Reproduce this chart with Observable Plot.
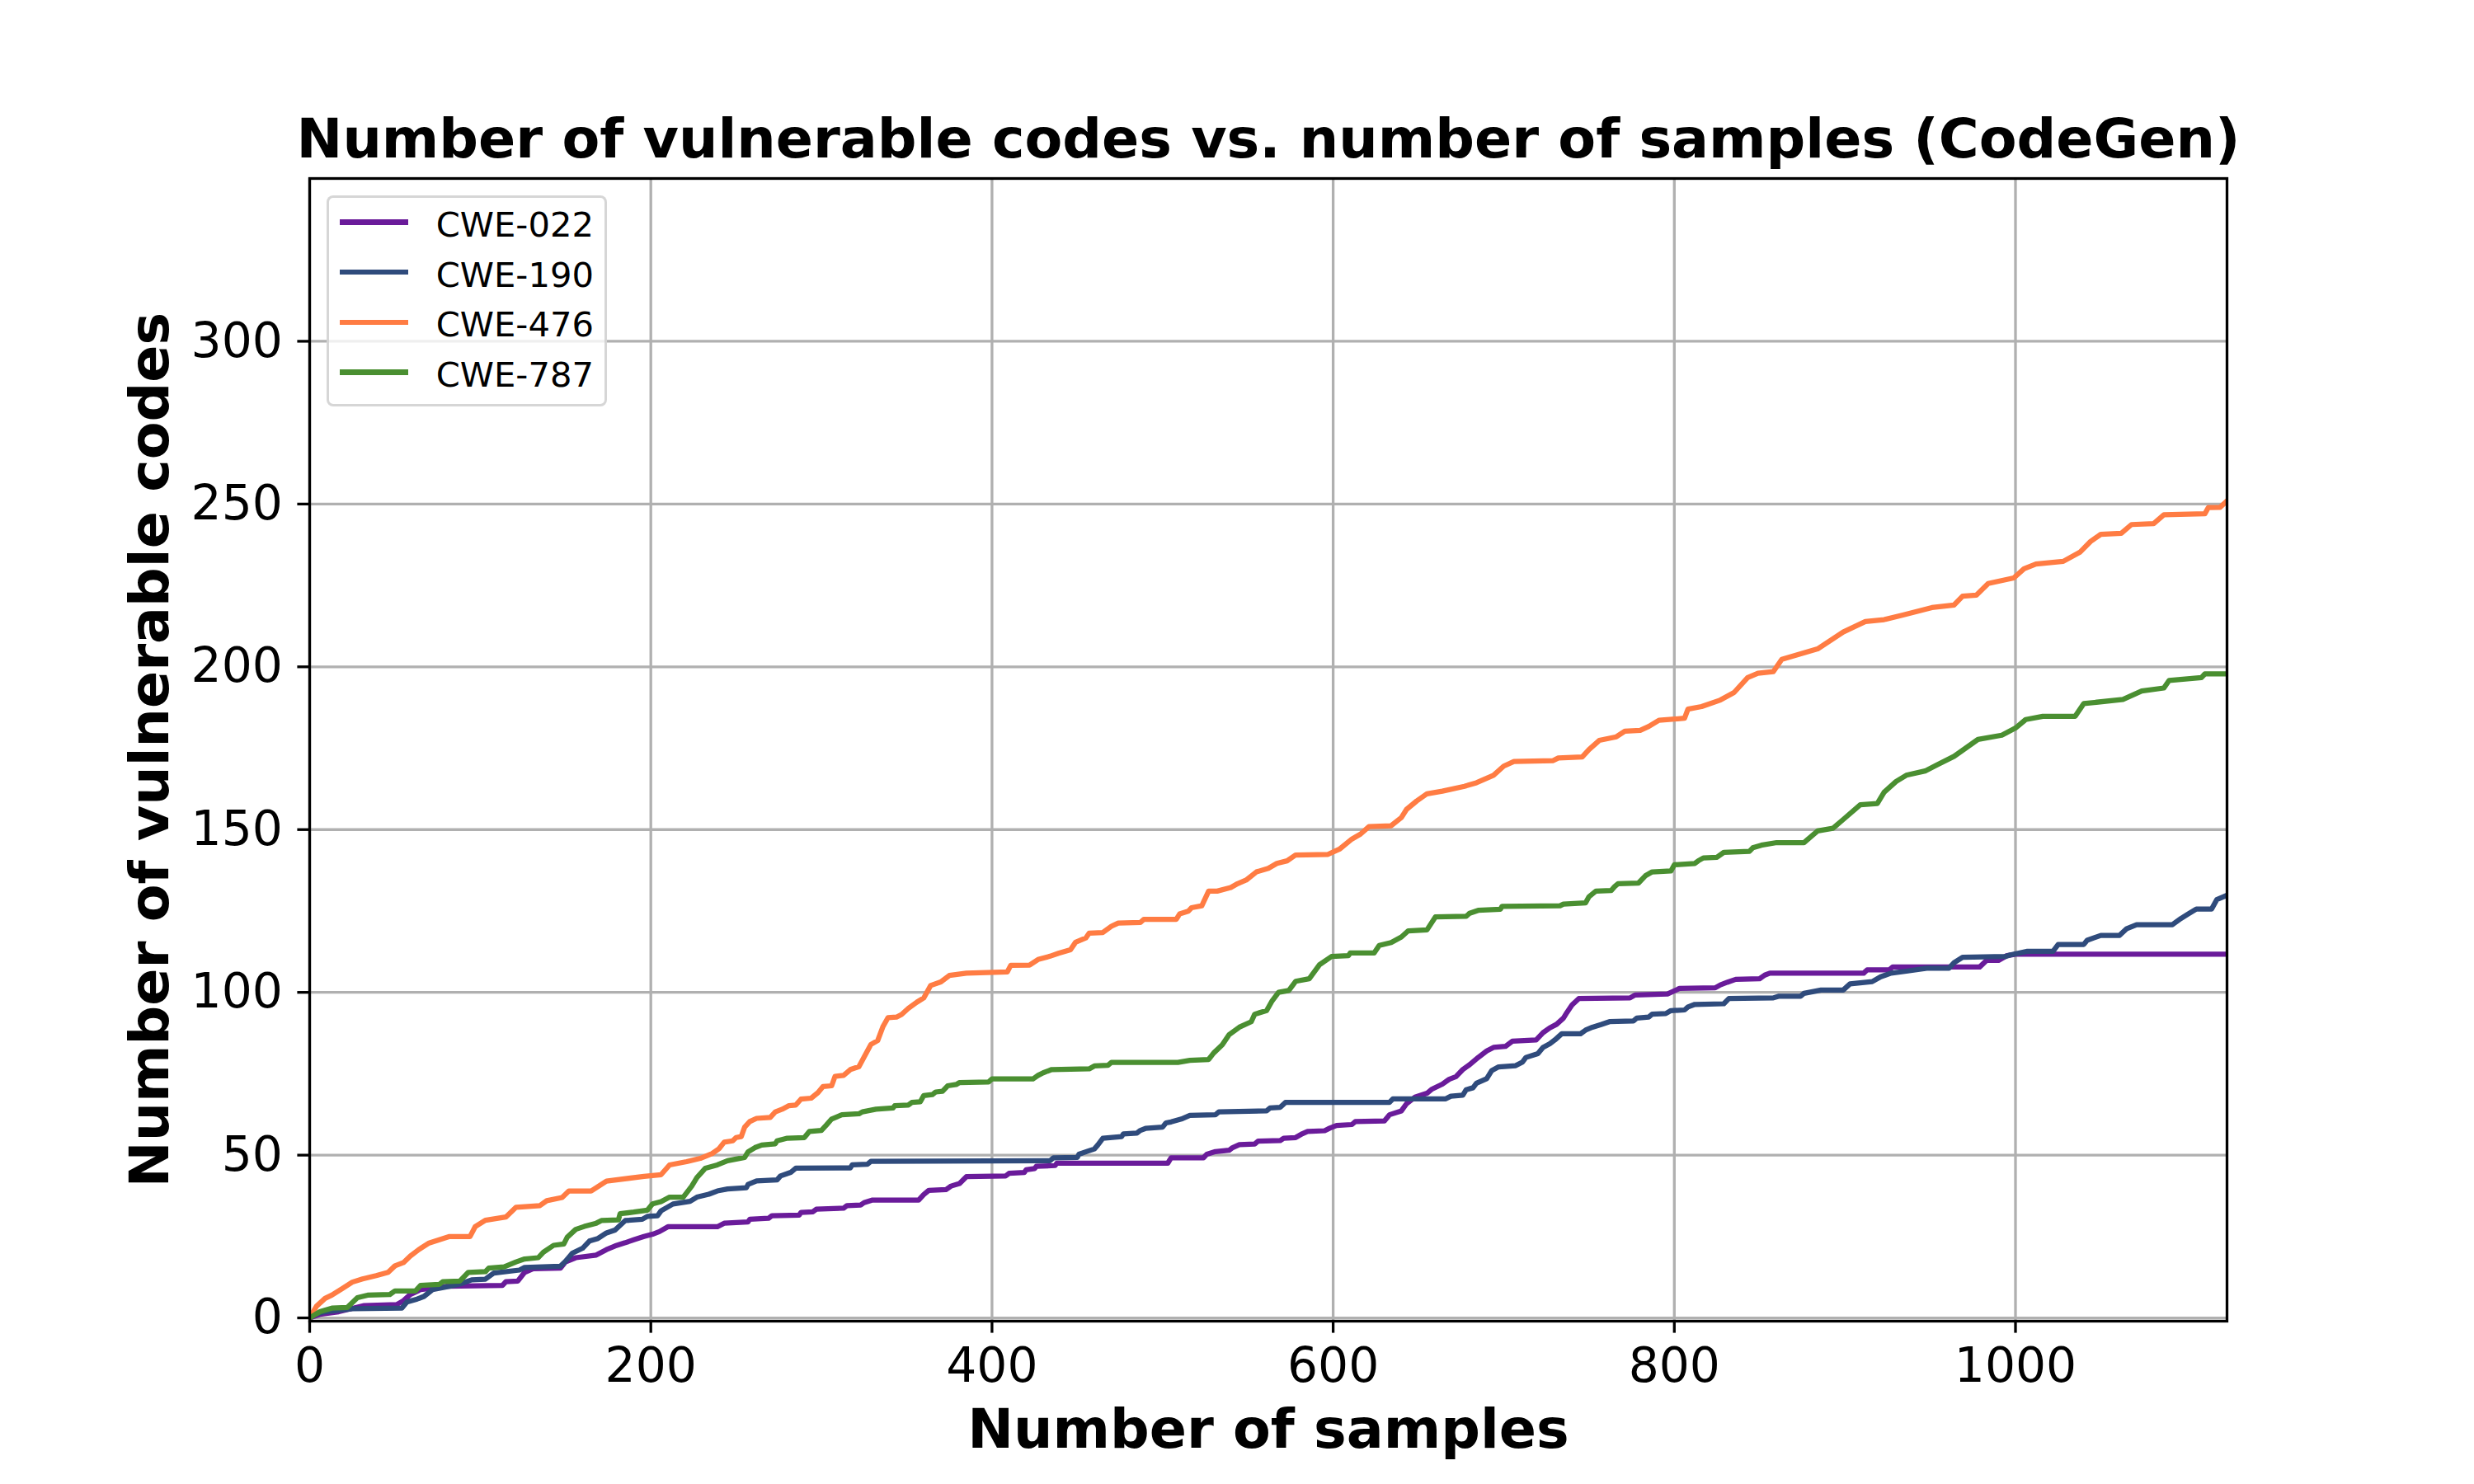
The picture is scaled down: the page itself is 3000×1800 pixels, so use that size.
<!DOCTYPE html>
<html>
<head>
<meta charset="utf-8">
<script src="https://cdn.jsdelivr.net/npm/d3@7"></script>
<script src="https://cdn.jsdelivr.net/npm/@observablehq/plot@0.6"></script>
<style>
  html, body { margin: 0; padding: 0; background: white; }
  #wrap { position: relative; width: 3000px; height: 1800px; background: white; font-family: "DejaVu Sans", sans-serif; }
  #wrap svg { position: absolute; left: 0; top: 0; }
  .legend { position: absolute; box-sizing: border-box; background: rgba(255,255,255,0.8); border: 3.3px solid rgba(204,204,204,0.8); border-radius: 8px; }
  .lg-handle { position: absolute; height: 6.25px; }
  .lg-text { position: absolute; font-family: "DejaVu Sans", sans-serif; font-size: 41.7px; line-height: 1; color: black; white-space: nowrap; }
</style>
</head>
<body>
<div id="wrap"></div>
<script>
const titleText = "Number of vulnerable codes vs. number of samples (CodeGen)";
const xLabel = "Number of samples";
const yLabel = "Number of vulnerable codes";
const xTicks = [0, 200, 400, 600, 800, 1000];
const yTicks = [0, 50, 100, 150, 200, 250, 300];
const seriesNames = ["CWE-022", "CWE-190", "CWE-476", "CWE-787"];
const seriesColors = ["#6a1b9a", "#2f4b7c", "#ff7c43", "#4a8f31"];

// [samples, cumulative vulnerable codes]
const cwe022 = [[0,0],[6,1.1],[17,1.9],[32,3.8],[51,4.1],[55,5.3],[59,7.2],[65,8.7],[74,9.2],[80,9.7],[113,10],[115,11.1],[122,11.3],[126,14],[131,15.1],[147,15.3],[150,17.2],[156,18.5],[168,19.3],[174,21],[179,22.1],[185,23.1],[190,24],[196,25],[201,25.7],[205,26.5],[210,28],[239,28],[243,29.1],[257,29.5],[258,30.3],[269,30.6],[271,31.4],[287,31.6],[288,32.4],[295,32.6],[297,33.4],[313,33.7],[315,34.5],[323,34.7],[325,35.4],[330,36.2],[357,36.2],[360,37.9],[363,39.2],[373,39.4],[376,40.5],[381,41.3],[385,43.4],[408,43.6],[410,44.4],[419,44.7],[420,45.5],[425,45.9],[426,46.6],[437,46.8],[438,47.5],[503,47.5],[505,49.2],[524,49.2],[526,50.3],[531,51.1],[539,51.5],[541,52.3],[545,53.2],[554,53.4],[556,54.3],[569,54.5],[571,55.2],[578,55.4],[582,56.6],[585,57.3],[595,57.5],[598,58.3],[602,59.1],[611,59.4],[613,60.3],[630,60.5],[633,62.4],[640,63.6],[643,65.8],[648,67.8],[655,69],[658,70.3],[664,71.8],[668,73.3],[672,74.1],[676,76.3],[680,77.8],[685,80],[690,82],[694,83.1],[701,83.4],[705,85],[719,85.4],[723,87.6],[727,89.1],[731,90.2],[735,92.1],[737,93.8],[740,96.1],[744,98.1],[774,98.3],[777,99.2],[796,99.5],[803,101.2],[824,101.4],[827,102.3],[831,103.1],[836,104],[850,104.2],[853,105.3],[856,105.9],[911,105.9],[913,106.9],[926,106.9],[928,107.8],[979,107.8],[983,109.8],[990,109.8],[995,111.3],[1000,111.7],[1124,111.7]];
const cwe190 = [[0,0],[3,1.1],[9,1.9],[25,2.8],[54,3],[57,4.9],[63,5.8],[67,6.6],[72,8.7],[82,9.7],[88,10.4],[95,11.7],[103,11.9],[108,13.8],[123,14.7],[126,15.5],[147,15.9],[150,17.4],[154,19.9],[160,21.4],[164,23.6],[169,24.4],[174,26.1],[179,27],[185,29.9],[195,30.3],[198,31.2],[204,31.4],[206,32.9],[213,35],[223,35.8],[227,37.1],[234,38],[239,39],[245,39.6],[256,40],[257,41],[262,42.1],[274,42.4],[276,43.6],[282,44.7],[285,46],[317,46.1],[318,47],[327,47.2],[329,48.1],[434,48.3],[436,49.2],[450,49.3],[451,50.3],[456,51.2],[460,51.9],[462,53.1],[465,55.2],[476,55.7],[477,56.5],[485,56.8],[487,57.6],[490,58.2],[500,58.6],[502,59.9],[505,60.2],[511,61.1],[516,62.2],[531,62.4],[533,63.3],[561,63.6],[563,64.5],[569,64.7],[572,66.2],[633,66.2],[635,67.3],[666,67.3],[669,68.1],[676,68.4],[678,70.1],[682,70.7],[684,72.1],[690,73.5],[693,76],[697,77.1],[707,77.5],[711,78.6],[713,80],[720,81.2],[723,83.1],[727,84.2],[730,85.4],[734,87.3],[745,87.3],[748,88.4],[752,89.3],[757,90.1],[762,91],[776,91.2],[778,92.1],[785,92.4],[787,93.3],[795,93.5],[798,94.4],[806,94.6],[808,95.5],[812,96.3],[829,96.5],[832,98.1],[858,98.3],[861,98.8],[874,98.8],[876,99.7],[886,100.7],[899,100.7],[903,102.6],[916,103.3],[921,104.8],[927,105.9],[936,106.5],[948,107.4],[961,107.4],[964,109.1],[969,110.8],[994,111],[997,111.5],[1007,112.6],[1022,112.6],[1025,114.7],[1040,114.7],[1042,116],[1050,117.5],[1061,117.5],[1065,119.5],[1071,120.8],[1092,120.8],[1097,122.7],[1101,124],[1106,125.6],[1115,125.6],[1118,128.5],[1124,129.8]];
const cwe476 = [[0,0],[4,3.6],[9,6],[13,7],[19,9],[25,11],[31,12],[39,13],[46,14],[50,16],[55,17],[59,19],[64,21],[70,23],[82,25],[94,25],[97,28],[103,30],[115,31],[121,34],[135,34.5],[139,36],[148,37],[152,39],[165,39],[174,42],[196,43.5],[206,44],[211,47],[221,48],[229,49],[236,50.5],[240,52],[243,54],[248,54.4],[250,55.4],[253,55.7],[255,58.6],[258,60.3],[262,61.3],[270,61.6],[273,63.3],[277,64.1],[281,65.2],[285,65.4],[288,67.2],[294,67.5],[298,69.2],[301,71.1],[306,71.3],[308,74.2],[313,74.5],[317,76.3],[322,77.2],[329,84],[333,85.2],[336,89.4],[339,92.2],[344,92.4],[347,93.2],[351,95.1],[356,97],[360,98.3],[364,102.1],[370,103.2],[375,105.2],[385,105.9],[409,106.3],[411,108.3],[422,108.4],[427,110.1],[434,111.1],[439,112],[446,113.1],[449,115.4],[455,116.7],[457,118.2],[465,118.4],[470,120.3],[474,121.3],[487,121.5],[489,122.4],[508,122.4],[510,124.1],[515,124.9],[517,126],[523,126.6],[527,131.1],[532,131.1],[540,132.2],[544,133.4],[549,134.5],[555,137],[562,138.1],[567,139.6],[573,140.4],[578,142.2],[597,142.4],[604,144.1],[611,147.1],[616,148.6],[621,150.9],[634,151.2],[640,153.7],[643,156.2],[649,158.8],[655,161],[664,161.8],[677,163.3],[684,164.4],[694,166.7],[700,169.5],[706,170.9],[729,171.2],[732,172],[746,172.3],[750,174.6],[756,177.4],[766,178.5],[771,180.2],[780,180.5],[785,181.7],[791,183.6],[806,184.2],[808,187],[816,187.8],[827,189.8],[835,192.1],[843,196.7],[849,198],[858,198.5],[863,202.3],[884,205.5],[899,210.7],[912,213.9],[923,214.5],[934,215.9],[951,218.2],[964,219],[969,221.7],[977,222],[984,225.6],[999,227.3],[1005,230.1],[1012,231.6],[1028,232.4],[1038,235.3],[1044,238.5],[1050,240.7],[1062,241],[1068,243.7],[1081,244],[1087,246.7],[1111,247],[1113,248.9],[1120,249],[1124,251]];
const cwe787 = [[0,0],[6,1.9],[13,3],[22,3.2],[28,6.2],[34,7],[47,7.2],[50,8.3],[62,8.3],[65,10],[76,10.3],[78,11.1],[88,11.3],[93,14],[103,14.2],[105,15.3],[114,15.7],[121,17.2],[126,18.1],[134,18.5],[137,20.2],[143,22.3],[149,22.7],[151,24.8],[156,27.2],[161,28.1],[168,29.1],[171,29.9],[181,30.1],[182,32],[190,32.5],[198,33.1],[201,35],[206,35.7],[211,37.1],[219,37.1],[224,40.5],[227,43.1],[232,46],[239,47],[245,48.3],[255,49.3],[257,51],[261,52.3],[265,53.1],[273,53.5],[274,54.4],[280,55.2],[290,55.4],[293,57.3],[300,57.6],[303,59.3],[306,61.1],[312,62.4],[322,62.7],[324,63.3],[332,64.1],[342,64.5],[343,65.2],[351,65.4],[353,66.2],[358,66.4],[360,68.3],[365,68.6],[367,69.4],[371,69.6],[374,71.3],[379,71.7],[381,72.3],[398,72.5],[400,73.4],[424,73.4],[427,74.5],[430,75.3],[435,76.3],[457,76.5],[460,77.4],[468,77.6],[470,78.5],[509,78.5],[516,79.1],[527,79.4],[530,81.4],[535,83.9],[539,87],[545,89.3],[552,91],[554,93.3],[561,94.4],[564,97.2],[568,100],[574,100.6],[578,103.4],[586,104.2],[592,108.5],[599,111],[609,111.3],[610,112.1],[624,112.1],[627,114.4],[634,115.3],[640,117],[644,118.9],[655,119.2],[660,123.2],[678,123.4],[680,124.3],[685,125.2],[698,125.5],[699,126.4],[733,126.6],[735,127.1],[748,127.5],[750,129.4],[754,131.1],[763,131.3],[765,132.5],[767,133.4],[779,133.6],[783,135.8],[787,137],[798,137.3],[800,139.2],[812,139.6],[814,140.4],[817,141.3],[825,141.5],[829,143],[844,143.3],[846,144.4],[851,145.2],[860,146],[876,146],[884,149.6],[893,150.4],[899,153.1],[909,157.6],[919,158],[923,161.5],[930,164.8],[936,166.7],[947,168],[954,169.9],[964,172.5],[971,175.1],[978,177.7],[992,179],[1000,181.2],[1006,183.8],[1016,184.8],[1035,184.8],[1040,188.7],[1063,190],[1074,192.6],[1087,193.5],[1090,195.8],[1109,196.7],[1111,197.8],[1124,197.8]];
const seriesData = [cwe022, cwe190, cwe476, cwe787];

const W = 3000, H = 1800;
const mL = 375, mR = 300, mT = 216, mB = 198;
const fmt = d => `${d}`;

const lineMarks = seriesData.map((arr, i) =>
  Plot.line(arr, {x: d => d[0], y: d => d[1], stroke: seriesColors[i], strokeWidth: 6.25, strokeLinejoin: "round", clip: true})
);

const chart = Plot.plot({
  width: W, height: H,
  marginLeft: mL, marginRight: mR, marginTop: mT, marginBottom: mB,
  style: {fontFamily: "DejaVu Sans", background: "white", color: "black", overflow: "visible"},
  x: {domain: [0, 1124]},
  y: {domain: [-1, 350]},
  marks: [
    Plot.gridX(xTicks, {stroke: "#b0b0b0", strokeOpacity: 1, strokeWidth: 3.3}),
    Plot.gridY(yTicks, {stroke: "#b0b0b0", strokeOpacity: 1, strokeWidth: 3.3}),
    ...lineMarks,
    Plot.frame({stroke: "black", strokeWidth: 3.3}),
    Plot.axisX({ticks: xTicks, tickFormat: fmt, tickSize: 14.6, tickPadding: 17, strokeWidth: 3.3, fontSize: 58.3, label: null}),
    Plot.axisY({ticks: yTicks, tickFormat: fmt, tickSize: 14.6, tickPadding: 18, strokeWidth: 3.3, fontSize: 58.3, label: null}),
    Plot.axisX({ticks: [], tickSize: 0, label: xLabel, labelAnchor: "center", labelArrow: "none", labelOffset: 153, fontSize: 66.7, fontWeight: "bold"}),
    Plot.axisY({ticks: [], tickSize: 0, label: yLabel, labelAnchor: "center", labelArrow: "none", labelOffset: 219, fontSize: 66.7, fontWeight: "bold"}),
    Plot.text([titleText], {text: d => d, frameAnchor: "top", lineAnchor: "bottom", dy: -26, fontSize: 66.7, fontWeight: "bold"})
  ]
});

const wrap = document.getElementById("wrap");
wrap.appendChild(chart);

// Legend (matplotlib-style, upper left)
const lg = document.createElement("div");
lg.className = "legend";
Object.assign(lg.style, {left: "395.8px", top: "236.8px", width: "340px", height: "256px"});
wrap.appendChild(lg);
const baseTop = 236.8 + 3.3;
seriesNames.forEach((name, i) => {
  const cy = 269.7 + i * 60.7;
  const h = document.createElement("div");
  h.className = "lg-handle";
  Object.assign(h.style, {left: (412.5 - 395.8 - 3.3) + "px", top: (cy - 3.1 - baseTop) + "px", width: "83px", background: seriesColors[i]});
  lg.appendChild(h);
  const t = document.createElement("div");
  t.className = "lg-text";
  t.textContent = name;
  // baseline approx at cy + 14.3 ; line-height 1 => top = baseline - ~0.76em
  Object.assign(t.style, {left: (529 - 395.8 - 3.3) + "px", top: (cy + 14.3 - 0.76 * 41.7 - baseTop) + "px"});
  lg.appendChild(t);
});
</script>
</body>
</html>
